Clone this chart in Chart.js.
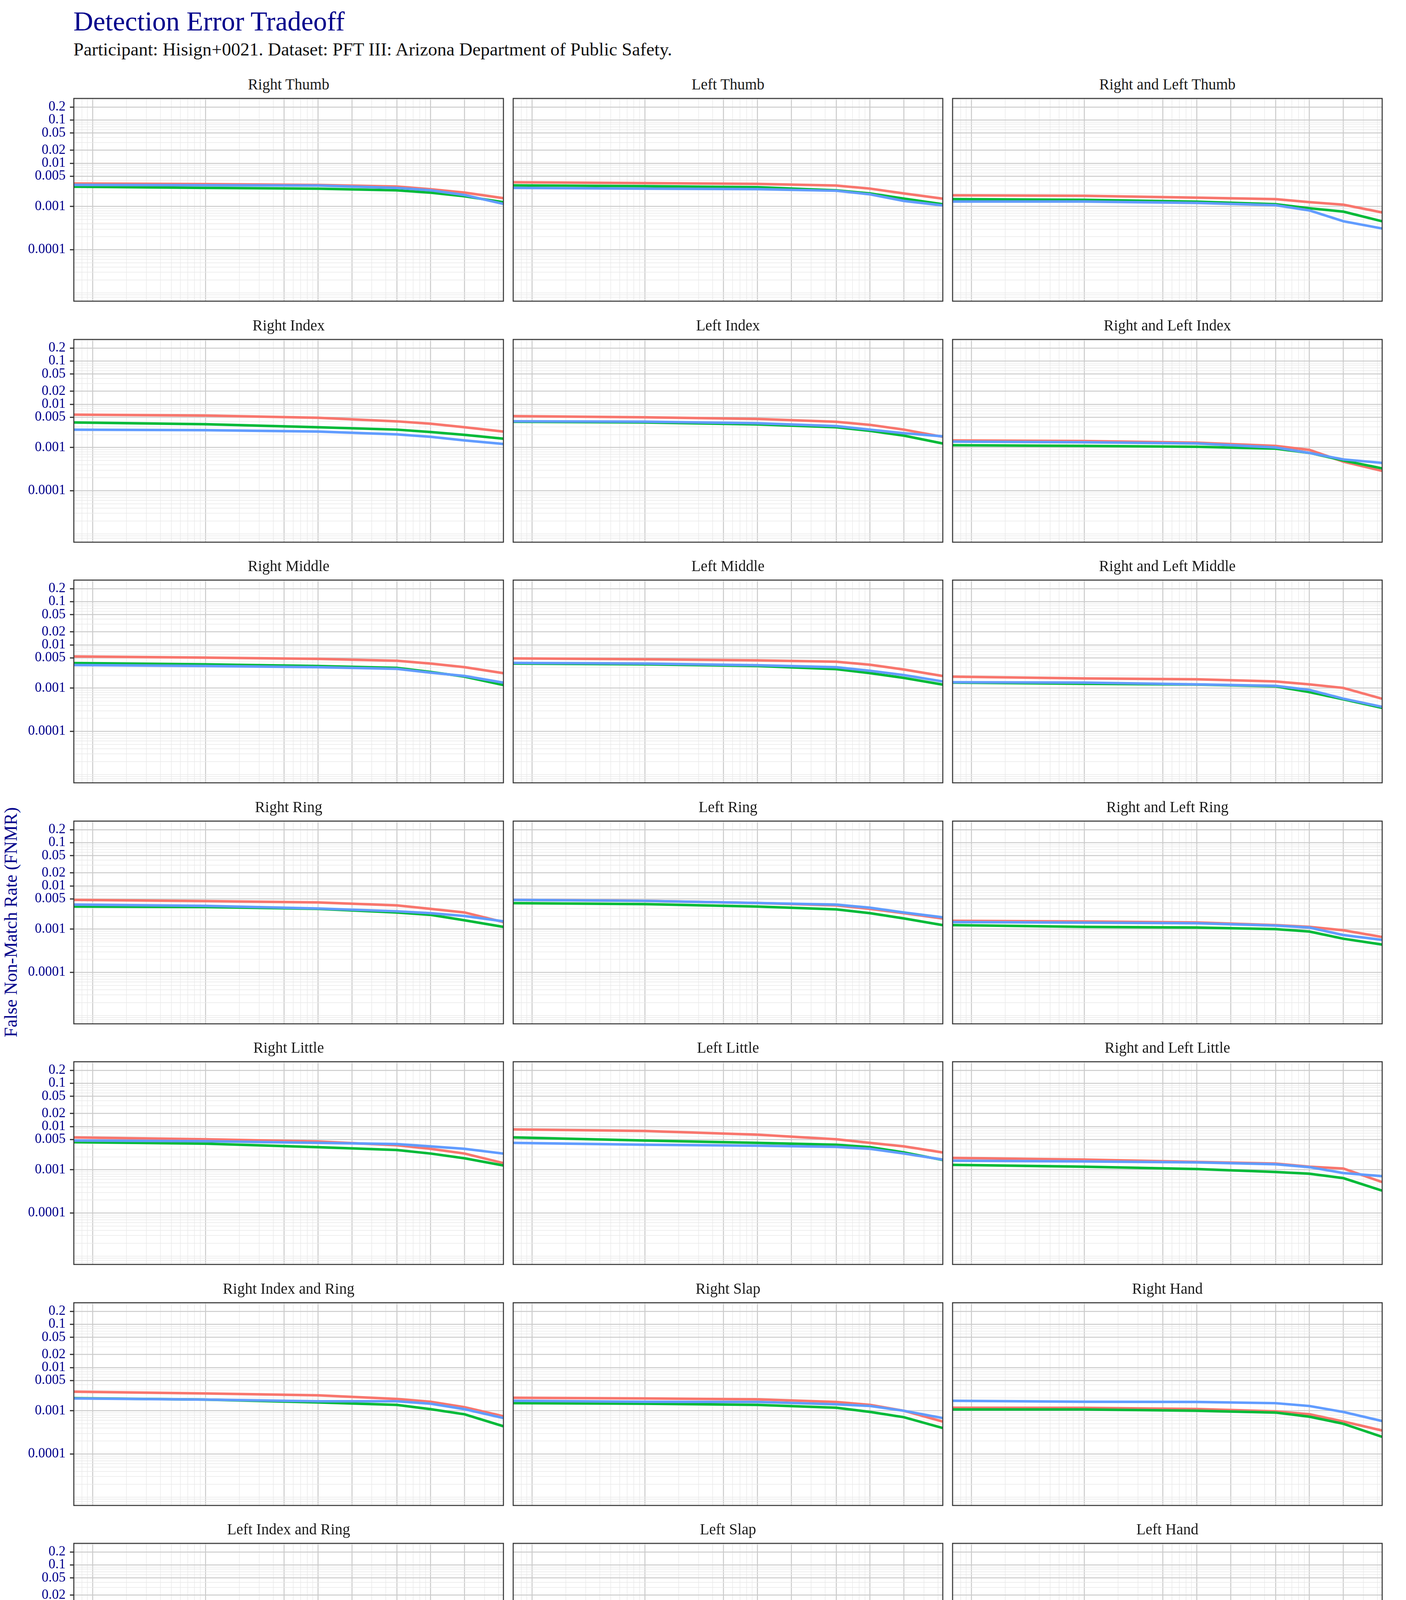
<!DOCTYPE html>
<html>
<head>
<meta charset="utf-8">
<title>Detection Error Tradeoff</title>
<script src="https://cdn.jsdelivr.net/npm/chart.js@4.4.1/dist/chart.umd.min.js"></script>
<style>
  html, body { margin: 0; padding: 0; background: #ffffff; }
  body { width: 3600px; height: 4800px; position: relative; overflow: hidden; font-family: 'Liberation Serif', 'Times New Roman', serif; }
  .txt { position: absolute; white-space: nowrap; line-height: 1; }
  canvas { position: absolute; }
  #title { left: 188px; top: 20px; font-size: 70px; color: #00008B; }
  #subtitle { left: 188px; top: 103px; font-size: 47px; color: #111111; }
  .strip { font-size: 39px; color: #1a1a1a; text-align: center; width: 1100px; }
  #xtitle { left: 189px; width: 3351px; text-align: center; top: 4529px; font-size: 46px; color: #00008B; }
  #ytitle { left: 28px; top: 2361px; font-size: 46px; color: #00008B; transform: translate(-50%, -50%) rotate(-90deg); }
  .legend { top: 4653px; font-size: 53px; color: #00008B; }
  .key { position: absolute; top: 4677px; width: 48px; height: 6px; }
  #footer { right: 58px; top: 4750px; font-size: 34px; font-style: italic; color: #bbbbbb; }
</style>
</head>
<body>
<div id="title" class="txt">Detection Error Tradeoff</div>
<div id="subtitle" class="txt">Participant: Hisign+0021. Dataset: PFT III: Arizona Department of Public Safety.</div>
<div id="xtitle" class="txt">False Match Rate (FMR)</div>
<div id="ytitle" class="txt">False Non-Match Rate (FNMR)</div>
<div class="txt legend" style="left:964px">Impressions Compared</div>
<div class="key" style="left:1508px; background:#F8766D"></div>
<div class="txt legend" style="left:1584px">Plain to Plain</div>
<div class="key" style="left:1905px; background:#00BA38"></div>
<div class="txt legend" style="left:1979px">Plain to Rolled</div>
<div class="key" style="left:2332px; background:#619CFF"></div>
<div class="txt legend" style="left:2406px">Rolled to Rolled</div>
<div id="footer" class="txt">Generated 19 August 2026, 03:05:08 PM EDT</div>

<script>
// Panels, in facet order (row by row)
const panelTitles = [
    'Right Thumb', 'Left Thumb', 'Right and Left Thumb',
    'Right Index', 'Left Index', 'Right and Left Index',
    'Right Middle', 'Left Middle', 'Right and Left Middle',
    'Right Ring', 'Left Ring', 'Right and Left Ring',
    'Right Little', 'Left Little', 'Right and Left Little',
    'Right Index and Ring', 'Right Slap', 'Right Hand',
    'Left Index and Ring', 'Left Slap', 'Left Hand'
];

// FMR values where each curve is sampled
const fmr = [0.000068, 0.001, 0.01, 0.05, 0.1, 0.2, 0.44];

// FNMR per panel, one row per panel at the fmr points
const plainToPlain = [
    [0.0034, 0.0033, 0.00315, 0.0029, 0.0025, 0.0021, 0.00156],
    [0.00364, 0.00347, 0.00333, 0.00305, 0.00259, 0.0020, 0.00152],
    [0.00181, 0.00177, 0.0016, 0.00148, 0.00126, 0.0011, 0.00073],
    [0.00575, 0.0055, 0.00488, 0.00403, 0.00355, 0.00294, 0.00234],
    [0.00533, 0.0050, 0.00458, 0.00393, 0.00334, 0.00259, 0.00177],
    [0.00146, 0.00141, 0.00129, 0.00109, 0.00088, 0.00047, 0.000288],
    [0.0054, 0.00507, 0.00476, 0.0043, 0.0037, 0.00305, 0.00222],
    [0.00488, 0.00464, 0.0044, 0.00408, 0.00347, 0.00269, 0.00191],
    [0.00184, 0.00168, 0.0016, 0.00143, 0.00122, 0.00101, 0.00057],
    [0.00476, 0.00447, 0.00414, 0.00355, 0.00294, 0.00243, 0.00146],
    [0.00476, 0.0045, 0.00403, 0.00355, 0.00294, 0.00234, 0.00177],
    [0.00156, 0.0015, 0.00143, 0.00124, 0.00113, 0.00094, 0.00066],
    [0.0056, 0.00507, 0.0045, 0.0037, 0.00305, 0.00237, 0.00143],
    [0.0086, 0.0079, 0.0065, 0.00507, 0.00419, 0.00347, 0.00252],
    [0.00188, 0.00172, 0.00152, 0.00139, 0.00118, 0.00107, 0.00052],
    [0.00276, 0.00252, 0.00228, 0.00188, 0.00162, 0.00121, 0.00075],
    [0.0020, 0.00193, 0.00184, 0.0016, 0.00137, 0.0010, 0.000565],
    [0.00118, 0.00117, 0.0011, 0.00097, 0.00083, 0.000565, 0.00035],
    [0.0030, 0.00293, 0.00283, 0.00219, 0.00184, 0.00144, 0.00089],
    [0.0027, 0.00264, 0.00252, 0.00212, 0.00178, 0.00135, 0.00081],
    [0.00135, 0.00132, 0.00123, 0.00106, 0.00099, 0.0007, 0.00044]
];
const plainToRolled = [
    [0.00287, 0.0027, 0.00259, 0.00237, 0.00209, 0.00172, 0.00126],
    [0.00309, 0.00295, 0.00279, 0.00237, 0.0020, 0.00152, 0.00113],
    [0.00148, 0.00143, 0.00129, 0.00113, 0.00091, 0.00076, 0.000455],
    [0.00379, 0.00346, 0.00294, 0.00259, 0.00228, 0.00196, 0.0016],
    [0.00393, 0.00379, 0.00342, 0.00294, 0.00243, 0.00188, 0.00124],
    [0.00113, 0.00109, 0.00104, 0.00094, 0.00075, 0.0005, 0.00033],
    [0.00379, 0.00355, 0.00325, 0.00294, 0.00237, 0.00184, 0.00118],
    [0.0037, 0.00355, 0.00325, 0.00275, 0.00222, 0.00172, 0.00121],
    [0.00134, 0.00126, 0.00121, 0.0011, 0.00081, 0.00055, 0.00035],
    [0.00334, 0.00325, 0.00294, 0.00243, 0.00214, 0.0016, 0.00113],
    [0.00399, 0.00379, 0.00334, 0.00286, 0.00234, 0.00177, 0.00124],
    [0.00124, 0.00113, 0.00109, 0.0010, 0.00088, 0.0006, 0.00044],
    [0.00435, 0.00403, 0.00333, 0.00286, 0.00237, 0.00184, 0.00126],
    [0.0056, 0.00476, 0.00419, 0.00379, 0.00333, 0.00252, 0.00168],
    [0.0013, 0.00118, 0.00104, 0.00089, 0.00081, 0.00064, 0.00033],
    [0.00196, 0.00181, 0.00156, 0.00137, 0.00109, 0.00083, 0.00044],
    [0.0015, 0.00146, 0.00137, 0.00118, 0.00094, 0.00071, 0.0004],
    [0.00107, 0.00107, 0.0010, 0.00091, 0.00073, 0.0005, 0.00025],
    [0.00222, 0.00219, 0.00209, 0.00182, 0.00144, 0.00109, 0.00065],
    [0.00187, 0.00182, 0.00172, 0.0015, 0.00121, 0.00092, 0.00036],
    [0.00113, 0.00112, 0.00106, 0.00092, 0.00077, 0.00049, 0.00026]
];
const rolledToRolled = [
    [0.00317, 0.0031, 0.00305, 0.0027, 0.00237, 0.00184, 0.00115],
    [0.00269, 0.00259, 0.00252, 0.00231, 0.00191, 0.00134, 0.00106],
    [0.0013, 0.0013, 0.00121, 0.00107, 0.00081, 0.000455, 0.00031],
    [0.00259, 0.00252, 0.00234, 0.00201, 0.00177, 0.00146, 0.00121],
    [0.00404, 0.00395, 0.00364, 0.00313, 0.00259, 0.00214, 0.00181],
    [0.00137, 0.00132, 0.00124, 0.0010, 0.00075, 0.00053, 0.00044],
    [0.00342, 0.00325, 0.00305, 0.00279, 0.00228, 0.00191, 0.00134],
    [0.00384, 0.0037, 0.00338, 0.00305, 0.00252, 0.0020, 0.00143],
    [0.00137, 0.00134, 0.00122, 0.00113, 0.00091, 0.00057, 0.00037],
    [0.00369, 0.00346, 0.0030, 0.00259, 0.00234, 0.00201, 0.00152],
    [0.00476, 0.0045, 0.00403, 0.00369, 0.00313, 0.00243, 0.00188],
    [0.00146, 0.00141, 0.00137, 0.00121, 0.00109, 0.00073, 0.000565],
    [0.00476, 0.00458, 0.00419, 0.00393, 0.00347, 0.00305, 0.00237],
    [0.00419, 0.00379, 0.0036, 0.00338, 0.00305, 0.00237, 0.00172],
    [0.00162, 0.00156, 0.00148, 0.00134, 0.00115, 0.00084, 0.00071],
    [0.00193, 0.00181, 0.00166, 0.00166, 0.00146, 0.00109, 0.00068],
    [0.0017, 0.00162, 0.0016, 0.00141, 0.00129, 0.0010, 0.00068],
    [0.0017, 0.00162, 0.0016, 0.0015, 0.00129, 0.00094, 0.00058],
    [0.0024, 0.00235, 0.00219, 0.00184, 0.0014, 0.00117, 0.00062],
    [0.00169, 0.00162, 0.0015, 0.00135, 0.00117, 0.00086, 0.00056],
    [0.00166, 0.00162, 0.00152, 0.0014, 0.00117, 0.0008, 0.00046]
];

// Labelled breaks on both axes
const xTickLabels = ['0.0001', '0.001', '0.005', '0.01', '0.02', '0.05', '0.1', '0.2'];
const yTickLabels = ['0.0001', '0.001', '0.005', '0.01', '0.02', '0.05', '0.1', '0.2'];

const X_MIN = 6.8e-5, X_MAX = 0.442;
const Y_MIN = 6.45e-6, Y_MAX = 0.316;

// Page layout (px)
const PANEL_LEFT = 189, PANEL_TOP = 252;
const PANEL_W = 1100, PANEL_H = 519;
const COL_STEP = 1125, ROW_STEP = 616.5;
const AXIS_W = 189, AXIS_H = 80, PAD = 4;

const MAJOR_GRID = '#cccccc', MINOR_GRID = '#e9e9e9';
const LABEL_FONT = { family: "'Liberation Serif', serif", size: 35 };

// All 1..9 x 10^k lines inside the range; the labelled ones are drawn as majors
function gridTicks(min, max) {
    const ticks = [];
    for (let k = -7; k <= 0; k++) {
        for (let m = 1; m <= 9; m++) {
            const v = parseFloat(m + 'e' + k);
            if (v >= min && v <= max) ticks.push({ value: v });
        }
    }
    return ticks;
}

function labelFor(value, labels) {
    const hit = labels.find(l => Math.abs(parseFloat(l) - value) / value < 1e-6);
    return hit || '';
}

function axisOptions(isX, showLabels) {
    const labels = isX ? xTickLabels : yTickLabels;
    const min = isX ? X_MIN : Y_MIN, max = isX ? X_MAX : Y_MAX;
    const isMajor = c => c.tick && labelFor(c.tick.value, labels) !== '';
    return {
        type: 'logarithmic',
        position: isX ? 'bottom' : 'left',
        min: min,
        max: max,
        afterBuildTicks: scale => { scale.ticks = gridTicks(min, max); },
        afterFit: scale => {
            // fixed axis boxes so every panel lands on the same grid
            if (isX) scale.height = AXIS_H; else scale.width = AXIS_W;
            scale.paddingTop = 0;
            scale.paddingBottom = 0;
            scale.paddingLeft = 0;
            scale.paddingRight = 0;
        },
        border: { display: false },
        grid: {
            color: c => isMajor(c) ? MAJOR_GRID : MINOR_GRID,
            lineWidth: c => isMajor(c) ? 2.6 : 1.4,
            drawTicks: showLabels,
            tickLength: 10,
            tickWidth: 3,
            tickColor: c => isMajor(c) ? '#333333' : 'rgba(0,0,0,0)'
        },
        ticks: {
            display: showLabels,
            autoSkip: false,
            maxRotation: 0,
            minRotation: 0,
            padding: isX ? 4 : 11,
            color: '#00008B',
            font: LABEL_FONT,
            callback: value => labelFor(value, labels)
        }
    };
}

// Dark frame around each panel, drawn over the curves
const panelBorder = {
    id: 'panelBorder',
    afterDraw(chart) {
        const a = chart.chartArea, g = chart.ctx;
        g.save();
        g.strokeStyle = '#333333';
        g.lineWidth = 2.6;
        g.strokeRect(a.left, a.top, a.right - a.left, a.bottom - a.top);
        g.restore();
    }
};

function toPoints(values) {
    return values.map((v, i) => ({ x: fmr[i], y: v }));
}

function drawPanel(idx) {
    const row = Math.floor(idx / 3), col = idx % 3;
    const left = PANEL_LEFT + col * COL_STEP;
    const top = Math.round(PANEL_TOP + row * ROW_STEP);

    const strip = document.createElement('div');
    strip.className = 'txt strip';
    strip.style.left = left + 'px';
    strip.style.top = (top - 56) + 'px';
    strip.textContent = panelTitles[idx];
    document.body.appendChild(strip);

    const canvas = document.createElement('canvas');
    const w = AXIS_W + PANEL_W + PAD, h = PAD + PANEL_H + AXIS_H;
    canvas.width = w;
    canvas.height = h;
    canvas.style.width = w + 'px';
    canvas.style.height = h + 'px';
    canvas.style.left = (left - AXIS_W) + 'px';
    canvas.style.top = (top - PAD) + 'px';
    document.body.appendChild(canvas);

    new Chart(canvas, {
        type: 'line',
        data: {
            datasets: [
                { label: 'Plain to Plain', data: toPoints(plainToPlain[idx]), borderColor: '#F8766D', order: 3 },
                { label: 'Plain to Rolled', data: toPoints(plainToRolled[idx]), borderColor: '#00BA38', order: 2 },
                { label: 'Rolled to Rolled', data: toPoints(rolledToRolled[idx]), borderColor: '#619CFF', order: 1 }
            ]
        },
        options: {
            responsive: false,
            animation: false,
            devicePixelRatio: 1,
            layout: { padding: { top: PAD, right: PAD, left: 0, bottom: 0 } },
            elements: {
                point: { radius: 0 },
                line: { borderWidth: 6.5, tension: 0, fill: false }
            },
            plugins: {
                legend: { display: false },
                tooltip: { enabled: false }
            },
            scales: {
                x: axisOptions(true, row === 6),
                y: axisOptions(false, col === 0)
            }
        },
        plugins: [panelBorder]
    });
}

for (let i = 0; i < panelTitles.length; i++) drawPanel(i);
</script>
</body>
</html>
